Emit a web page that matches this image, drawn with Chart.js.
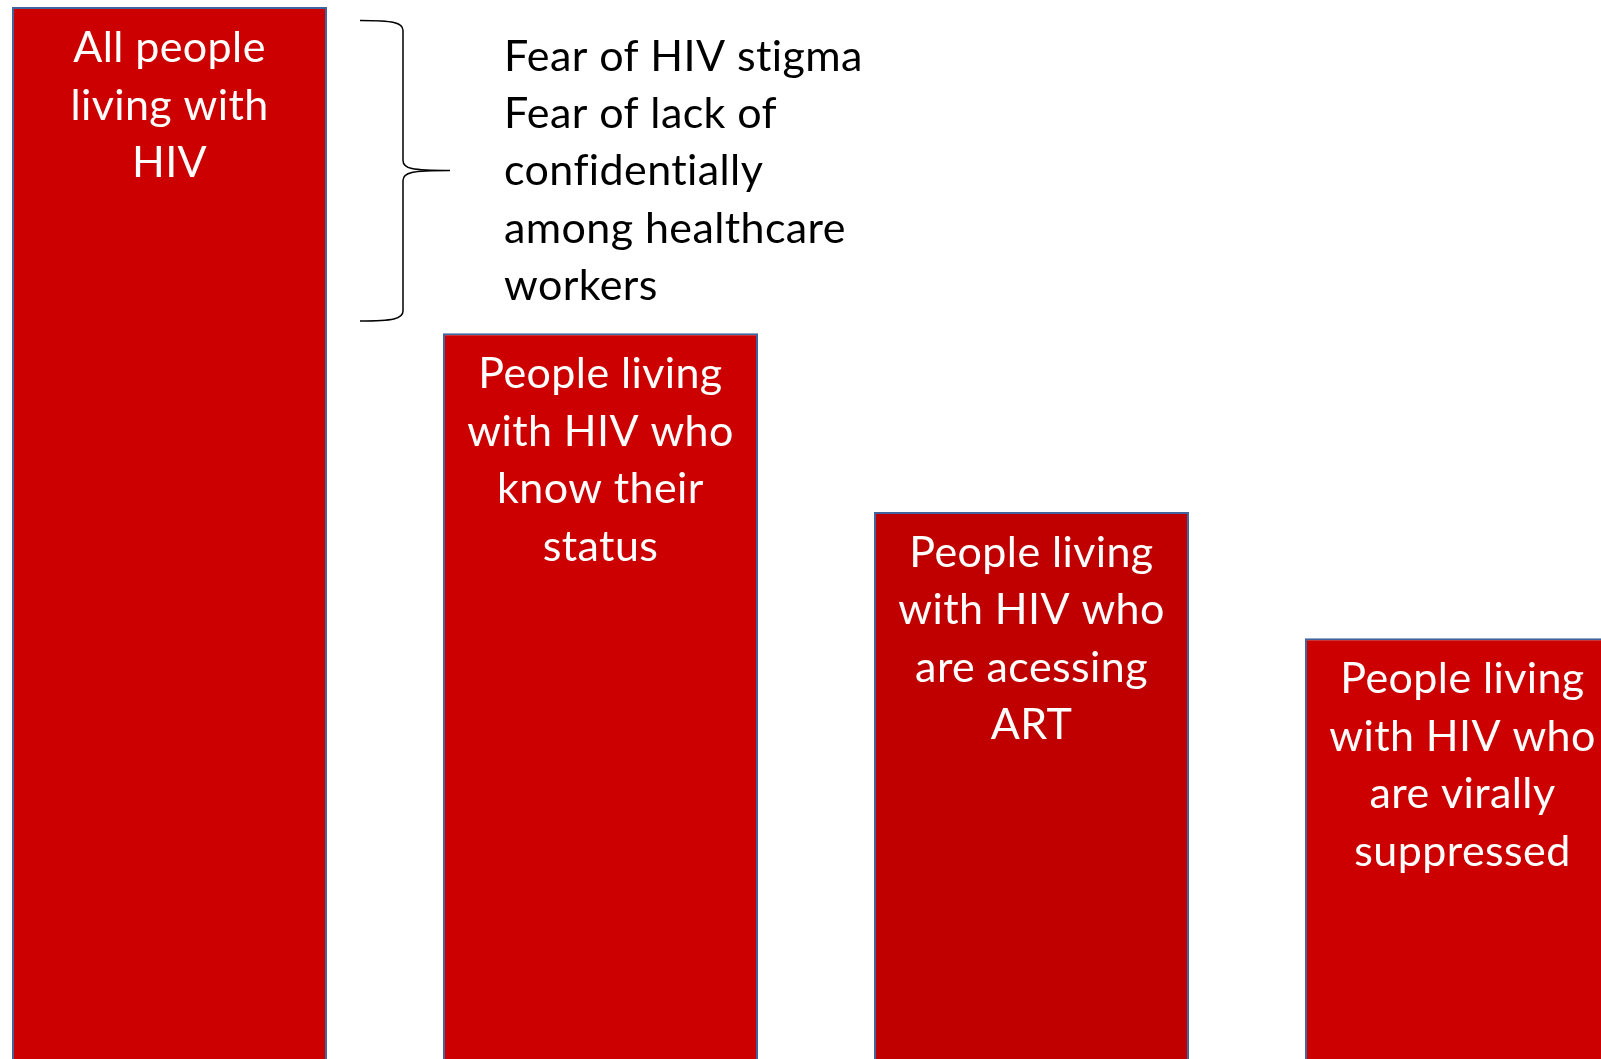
<!DOCTYPE html>
<html>
<head>
<meta charset="utf-8">
<script src="https://cdn.jsdelivr.net/npm/chart.js@4/dist/chart.umd.min.js"></script>
<style>
  html, body { margin: 0; padding: 0; background: #ffffff; overflow: hidden; width: 1601px; height: 1059px; }
  #wrap { position: absolute; left: -46px; top: 0; width: 1724px; height: 1059px; }
  canvas { display: block; }
</style>
</head>
<body>
<div id="wrap"><canvas id="c" width="1724" height="1059"></canvas></div>
<script>
// ---- data ----
const categories = [
  ["All people", "living with", "HIV"],
  ["People living", "with HIV who", "know their", "status"],
  ["People living", "with HIV who", "are acessing", "ART"],
  ["People living", "with HIV who", "are virally", "suppressed"]
];
const values = [100, 69, 52, 40];           // relative size (% of all people living with HIV)
const barColors = ["#CC0000", "#CC0000", "#C00000", "#CC0000"];
const barrierLines = [
  "Fear of HIV stigma",
  "Fear of lack of",
  "confidentially",
  "among healthcare",
  "workers"
];

const FONT = "Lato, 'Open Sans', sans-serif";
const FONT_SIZE = 43;
const LINE_H = 57.5;
const OFFSET_X = 46; // canvas is shifted left by this amount

const labelsPlugin = {
  id: 'barLabels',
  afterDatasetsDraw(chart) {
    const ctx = chart.ctx;
    const meta = chart.getDatasetMeta(0);
    ctx.save();
    ctx.font = FONT_SIZE + "px " + FONT;
    try { ctx.letterSpacing = "0.4px"; } catch (e) {}
    ctx.textAlign = "center";
    ctx.textBaseline = "alphabetic";
    ctx.fillStyle = "#ffffff";
    meta.data.forEach((bar, i) => {
      const lines = categories[i];
      lines.forEach((t, k) => {
        ctx.fillText(t, bar.x, bar.y + 55 + k * LINE_H);
      });
    });
    // annotation text
    ctx.fillStyle = "#000000";
    ctx.textAlign = "left";
    barrierLines.forEach((t, k) => {
      ctx.fillText(t, 504 + OFFSET_X, 70.7 + k * 57.3);
    });
    // curly brace
    ctx.strokeStyle = "#000000";
    ctx.lineWidth = 1.5;
    const x0 = 360 + OFFSET_X, xv = 403 + OFFSET_X, xt = 450 + OFFSET_X;
    const yTop = 20.5, yMid = 170.5, yBot = 321;
    ctx.beginPath();
    ctx.moveTo(x0, yTop);
    ctx.bezierCurveTo(xv - 10, yTop, xv, yTop + 2, xv, yTop + 10);
    ctx.lineTo(xv, yMid - 10);
    ctx.bezierCurveTo(xv, yMid - 2, xv + 8, yMid, xt, yMid);
    ctx.moveTo(xt, yMid);
    ctx.bezierCurveTo(xv + 8, yMid, xv, yMid + 2, xv, yMid + 10);
    ctx.lineTo(xv, yBot - 10);
    ctx.bezierCurveTo(xv, yBot - 2, xv - 10, yBot, x0, yBot);
    ctx.stroke();
    ctx.restore();
  }
};

new Chart(document.getElementById('c'), {
  type: 'bar',
  data: {
    labels: categories.map(l => l.join(' ')),
    datasets: [{
      data: values,
      backgroundColor: barColors,
      borderColor: "#3F649E",
      borderWidth: 2,
      borderSkipped: 'bottom',
      barPercentage: 1,
      categoryPercentage: 0.731
    }]
  },
  options: {
    responsive: false,
    animation: false,
    maintainAspectRatio: false,
    layout: { padding: 0 },
    plugins: { legend: { display: false }, tooltip: { enabled: false } },
    scales: {
      x: { display: false, grid: { display: false } },
      y: { display: false, min: 0, max: 100.67, grid: { display: false } }
    }
  },
  plugins: [labelsPlugin]
});
</script>
</body>
</html>
